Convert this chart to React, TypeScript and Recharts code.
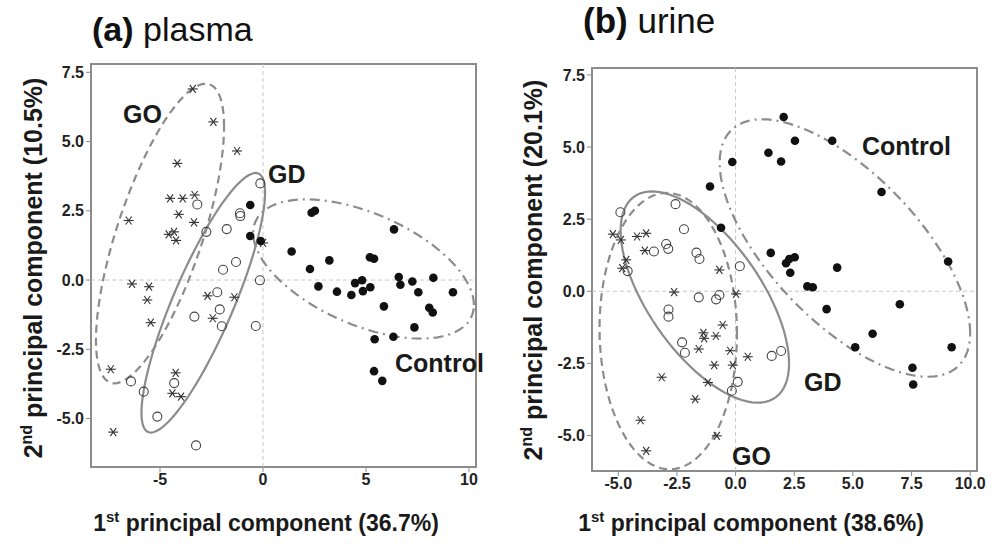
import { ScatterChart, Scatter, XAxis, YAxis, ReferenceLine, ReferenceArea } from "recharts"

// ---- (a) plasma: PCA scores ----
const plasmaGO = [
  { x: -3.41, y: 6.9 }, { x: -2.41, y: 5.71 }, { x: -1.26, y: 4.66 }, { x: -4.16, y: 4.21 },
  { x: -6.52, y: 2.15 }, { x: -4.51, y: 2.95 }, { x: -3.9, y: 2.95 }, { x: -3.32, y: 3.07 },
  { x: -4.09, y: 2.37 }, { x: -3.35, y: 2.08 }, { x: -4.58, y: 1.65 }, { x: -4.32, y: 1.74 },
  { x: -4.22, y: 1.43 }, { x: 0.0, y: 1.34 }, { x: -6.36, y: -0.14 }, { x: -5.53, y: -0.24 },
  { x: -5.62, y: -0.72 }, { x: -5.45, y: -1.54 }, { x: -2.69, y: -0.57 }, { x: -1.39, y: -0.62 },
  { x: -2.44, y: -1.38 }, { x: -7.39, y: -3.22 }, { x: -4.24, y: -3.35 }, { x: -4.4, y: -4.09 },
  { x: -3.98, y: -4.21 }, { x: -7.27, y: -5.49 },
]
const plasmaGD = [
  { x: -3.19, y: 2.73 }, { x: -2.75, y: 1.74 }, { x: -1.76, y: 1.84 }, { x: -1.12, y: 2.41 },
  { x: -1.1, y: 2.31 }, { x: -0.13, y: 3.49 }, { x: -1.31, y: 0.65 }, { x: -1.94, y: 0.37 },
  { x: -0.15, y: -0.01 }, { x: -2.22, y: -0.44 }, { x: -2.1, y: -1.06 }, { x: -3.33, y: -1.32 },
  { x: -2.0, y: -1.67 }, { x: -0.35, y: -1.66 }, { x: -6.41, y: -3.66 }, { x: -4.31, y: -3.72 },
  { x: -5.79, y: -4.03 }, { x: -5.13, y: -4.93 }, { x: -3.25, y: -5.97 },
]
const plasmaControl = [
  { x: -0.62, y: 2.71 }, { x: -0.62, y: 1.59 }, { x: -0.11, y: 1.41 }, { x: 1.39, y: 1.03 },
  { x: 2.36, y: 2.43 }, { x: 2.52, y: 2.5 }, { x: 6.36, y: 1.83 }, { x: 2.28, y: 0.4 },
  { x: 3.22, y: 0.71 }, { x: 5.19, y: 0.82 }, { x: 5.39, y: 0.77 }, { x: 2.69, y: -0.23 },
  { x: 3.59, y: -0.42 }, { x: 4.29, y: -0.54 }, { x: 4.47, y: -0.11 }, { x: 4.81, y: -0.01 },
  { x: 4.85, y: -0.4 }, { x: 5.21, y: -0.26 }, { x: 5.87, y: -0.95 }, { x: 6.59, y: 0.11 },
  { x: 6.67, y: -0.17 }, { x: 7.25, y: -0.05 }, { x: 7.54, y: -0.44 }, { x: 8.27, y: 0.08 },
  { x: 9.22, y: -0.44 }, { x: 8.07, y: -1.0 }, { x: 8.24, y: -1.17 }, { x: 7.35, y: -1.71 },
  { x: 6.33, y: -2.05 }, { x: 5.42, y: -2.14 }, { x: 5.39, y: -3.29 }, { x: 5.79, y: -3.64 },
]

// ---- (b) urine: PCA scores ----
const urineGO = [
  { x: -5.23, y: 1.98 }, { x: -4.89, y: 1.78 }, { x: -4.2, y: 1.9 }, { x: -3.81, y: 2.01 },
  { x: -3.87, y: 1.41 }, { x: -4.66, y: 1.09 }, { x: -4.83, y: 0.8 }, { x: -0.69, y: 0.74 },
  { x: -2.62, y: -0.03 }, { x: 0.02, y: -0.09 }, { x: -0.55, y: -1.17 }, { x: -1.37, y: -1.44 },
  { x: -1.34, y: -1.63 }, { x: -0.84, y: -1.55 }, { x: -1.57, y: -2.0 }, { x: -0.23, y: -2.06 },
  { x: 0.52, y: -2.27 }, { x: -0.91, y: -2.56 }, { x: -0.12, y: -2.56 }, { x: -3.15, y: -2.98 },
  { x: -1.18, y: -3.16 }, { x: -1.72, y: -3.74 }, { x: -4.05, y: -4.47 }, { x: -0.8, y: -5.01 },
  { x: -3.81, y: -5.53 },
]
const urineGD = [
  { x: -4.91, y: 2.74 }, { x: -2.56, y: 3.02 }, { x: -2.2, y: 2.15 }, { x: -2.96, y: 1.64 },
  { x: -2.87, y: 1.47 }, { x: -3.48, y: 1.38 }, { x: -1.67, y: 1.34 }, { x: -1.54, y: 1.12 },
  { x: 0.18, y: 0.87 }, { x: -4.6, y: 0.7 }, { x: -1.57, y: -0.21 }, { x: -0.69, y: -0.13 },
  { x: -0.83, y: -0.28 }, { x: -2.86, y: -0.63 }, { x: -2.86, y: -0.88 }, { x: -2.28, y: -1.77 },
  { x: -2.16, y: -2.13 }, { x: 1.54, y: -2.24 }, { x: 1.94, y: -2.07 }, { x: 0.09, y: -3.14 },
  { x: -0.16, y: -3.45 },
]
const urineControl = [
  { x: 2.05, y: 6.04 }, { x: 2.53, y: 5.22 }, { x: 4.12, y: 5.22 }, { x: 1.4, y: 4.8 },
  { x: 1.94, y: 4.5 }, { x: -0.14, y: 4.48 }, { x: -1.09, y: 3.63 }, { x: 6.22, y: 3.44 },
  { x: -0.62, y: 2.2 }, { x: 1.5, y: 1.33 }, { x: 2.15, y: 0.97 }, { x: 2.29, y: 1.12 },
  { x: 2.52, y: 1.18 }, { x: 2.33, y: 0.64 }, { x: 4.33, y: 0.82 }, { x: 3.06, y: 0.17 },
  { x: 3.29, y: 0.14 }, { x: 3.88, y: -0.62 }, { x: 7.0, y: -0.45 }, { x: 9.06, y: 1.03 },
  { x: 5.84, y: -1.47 }, { x: 5.1, y: -1.94 }, { x: 9.21, y: -1.94 }, { x: 7.54, y: -2.65 },
  { x: 7.57, y: -3.23 },
]

// confidence ellipses: centre, conjugate semi-diameter (ax, ay) and vertical half-chord h
const plasmaEllipseGO = { cx: -5.0, cy: 1.68, ax: 3.11, ay: 3.85, h: 3.8 }
const plasmaEllipseGD = { cx: -2.9, cy: -0.82, ax: 3.0, ay: 3.97, h: 2.49 }
const plasmaEllipseControl = { cx: 4.88, cy: 0.4, ax: 5.36, ay: -1.3, h: 2.15 }
const urineEllipseGO = { cx: -2.87, cy: -1.38, ax: 2.93, ay: -0.1, h: 4.79 }
const urineEllipseGD = { cx: -1.31, cy: -0.2, ax: 3.59, ay: -2.3, h: 2.85 }
const urineEllipseControl = { cx: 4.66, cy: 1.5, ax: 5.34, ay: -2.95, h: 3.35 }

const plasmaXTicks = [-5, 0, 5, 10]
const urineXTicks = [-5, -2.5, 0, 2.5, 5, 7.5, 10]
const yTicks = [-5, -2.5, 0, 2.5, 5, 7.5]

const FONT = "'Liberation Sans', Arial, Helvetica, sans-serif"
const LINE = "#8c8c8c"

function outline(e: { cx: number; cy: number; ax: number; ay: number; h: number }) {
  const pts = []
  for (let i = 0; i <= 90; i++) {
    const t = (i / 90) * Math.PI * 2
    pts.push({ x: e.cx + e.ax * Math.cos(t), y: e.cy + e.ay * Math.cos(t) + e.h * Math.sin(t) })
  }
  return pts
}

const Star = (p: any) => {
  const { cx, cy } = p
  const r = 5
  const dx = r * 0.6
  const dy = r * 0.8
  return (
    <g stroke="#333" strokeWidth={1.1}>
      <line x1={cx - r} y1={cy} x2={cx + r} y2={cy} />
      <line x1={cx - dx} y1={cy - dy} x2={cx + dx} y2={cy + dy} />
      <line x1={cx - dx} y1={cy + dy} x2={cx + dx} y2={cy - dy} />
    </g>
  )
}
const OpenDot = (p: any) => <circle cx={p.cx} cy={p.cy} r={4.5} fill="none" stroke="#444" strokeWidth={1.1} />
const FilledDot = (p: any) => <circle cx={p.cx} cy={p.cy} r={4.3} fill="#111" />
const NoDot = () => <g />

function Panel(props: any) {
  const { go, gd, control, eGO, eGD, eControl, xDomain, yDomain, xTicks, xFmt, margin } = props
  const tick = { fontSize: 16, fontWeight: "bold", fill: "#222", fontFamily: FONT }
  return (
    <ScatterChart width={500} height={545} margin={margin}>
      <XAxis
        type="number" dataKey="x" domain={xDomain} ticks={xTicks} allowDataOverflow interval={0}
        tickFormatter={xFmt} tick={tick} tickSize={5} tickMargin={2} axisLine={false}
        tickLine={{ stroke: LINE }} height={30}
      />
      <YAxis
        type="number" dataKey="y" domain={yDomain} ticks={yTicks} allowDataOverflow interval={0}
        tickFormatter={(v: number) => v.toFixed(1)} tick={tick} tickSize={5} tickMargin={2}
        axisLine={false} tickLine={{ stroke: LINE }} width={60}
      />
      <ReferenceLine x={0} stroke="#c8c8c8" strokeDasharray="4 3" />
      <ReferenceLine y={0} stroke="#c8c8c8" strokeDasharray="4 3" />
      <ReferenceArea x1={xDomain[0]} x2={xDomain[1]} y1={yDomain[0]} y2={yDomain[1]}
        fill="none" stroke={LINE} strokeWidth={2} ifOverflow="visible" />
      <Scatter data={outline(eGO)} shape={NoDot} line={{ stroke: LINE, strokeWidth: 2.2, strokeDasharray: "8 5" }} isAnimationActive={false} />
      <Scatter data={outline(eGD)} shape={NoDot} line={{ stroke: LINE, strokeWidth: 2.2 }} isAnimationActive={false} />
      <Scatter data={outline(eControl)} shape={NoDot} line={{ stroke: LINE, strokeWidth: 2.2, strokeDasharray: "10 5 2 5" }} isAnimationActive={false} />
      <Scatter data={go} shape={Star} isAnimationActive={false} />
      <Scatter data={gd} shape={OpenDot} isAnimationActive={false} />
      <Scatter data={control} shape={FilledDot} isAnimationActive={false} />
    </ScatterChart>
  )
}

export default function App() {
  return (
    <div style={{ position: "absolute", left: 0, top: 0, width: 1000, height: 545, background: "#fff", fontFamily: FONT }}>
      <div style={{ position: "absolute", left: 0, top: 0 }}>
        <Panel
          go={plasmaGO} gd={plasmaGD} control={plasmaControl}
          eGO={plasmaEllipseGO} eGD={plasmaEllipseGD} eControl={plasmaEllipseControl}
          xDomain={[-8.35, 10.34]} yDomain={[-6.75, 7.8]} xTicks={plasmaXTicks}
          xFmt={(v: number) => String(v)}
          margin={{ top: 64, right: 24, bottom: 48, left: 31 }}
        />
      </div>
      <div style={{ position: "absolute", left: 500, top: 0 }}>
        <Panel
          go={urineGO} gd={urineGD} control={urineControl}
          eGO={urineEllipseGO} eGD={urineEllipseGD} eControl={urineEllipseControl}
          xDomain={[-6.12, 10.29]} yDomain={[-6.23, 7.74]} xTicks={urineXTicks}
          xFmt={(v: number) => v.toFixed(1)}
          margin={{ top: 68, right: 23, bottom: 44, left: 32 }}
        />
      </div>
      <svg width={1000} height={545} style={{ position: "absolute", left: 0, top: 0, pointerEvents: "none" }}
        fontFamily={FONT}>
        <text x={92} y={41} fontSize={34} fill="#111">
          <tspan fontWeight="bold">(a)</tspan> plasma
        </text>
        <text x={583} y={33} fontSize={35} fill="#111">
          <tspan fontWeight="bold">(b)</tspan> urine
        </text>

        <g fontSize={25} fontWeight="bold" fill="#1a1a1a">
          <text x={123} y={123}>GO</text>
          <text x={268} y={183}>GD</text>
          <text x={395} y={372}>Control</text>
          <text x={862} y={155}>Control</text>
          <text x={804} y={391}>GD</text>
          <text x={732} y={465}>GO</text>
        </g>

        <g fontWeight="bold" fill="#1a1a1a">
          <text x={266} y={531} textAnchor="middle" fontSize={23}>
            1<tspan dy={-9} fontSize={15}>st</tspan><tspan dy={9}> principal component (36.7%)</tspan>
          </text>
          <text x={751} y={531} textAnchor="middle" fontSize={23}>
            1<tspan dy={-9} fontSize={15}>st</tspan><tspan dy={9}> principal component (38.6%)</tspan>
          </text>
          <text x={42} y={268} textAnchor="middle" transform="rotate(-90 42 268)" fontSize={25}>
            2<tspan dy={-10} fontSize={16}>nd</tspan><tspan dy={10}> principal component (10.5%)</tspan>
          </text>
          <text x={542} y={270} textAnchor="middle" transform="rotate(-90 542 270)" fontSize={25}>
            2<tspan dy={-10} fontSize={16}>nd</tspan><tspan dy={10}> principal component (20.1%)</tspan>
          </text>
        </g>
      </svg>
    </div>
  )
}
